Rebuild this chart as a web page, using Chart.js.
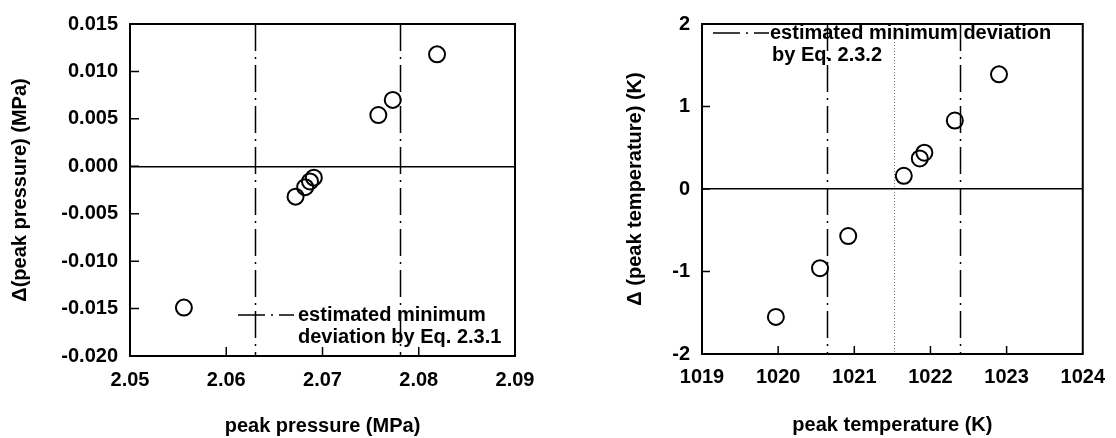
<!DOCTYPE html>
<html>
<head>
<meta charset="utf-8">
<script src="https://cdn.jsdelivr.net/npm/chart.js@4.4.1/dist/chart.umd.min.js"></script>
<style>
  body { margin: 0; background: #fff; width: 1116px; height: 438px; position: relative; overflow: hidden; }
  canvas { position: absolute; top: 0; }
  #pressChart { left: 0; }
  #tempChart { left: 560px; }
</style>
</head>
<body>
<canvas id="pressChart" width="560" height="438"></canvas>
<canvas id="tempChart" width="556" height="438"></canvas>
<script>
// left panel: peak pressure
const pressX = [2.0556, 2.0672, 2.0682, 2.0687, 2.0691, 2.0758, 2.0773, 2.0819];
const pressDev = [-0.0149, -0.0032, -0.0022, -0.0016, -0.0012, 0.0054, 0.0070, 0.0118];
const pressMinDevLines = [2.063, 2.078];
const pressLegend = ['estimated minimum', 'deviation by Eq. 2.3.1'];

// right panel: peak temperature
const tempX = [1019.97, 1020.55, 1020.92, 1021.65, 1021.86, 1021.92, 1022.32, 1022.90];
const tempDev = [-1.55, -0.96, -0.57, 0.16, 0.37, 0.44, 0.83, 1.39];
const tempMinDevLines = [1020.64, 1022.39];
const tempMidLine = [1021.52];
const tempLegend = ['estimated minimum deviation', 'by Eq. 2.3.2'];

const FONT = { family: '"Liberation Sans", Arial, sans-serif', size: 20, weight: 'bold' };
const DASHDOT = [27, 6, 2, 6];

const figurePlugin = {
    id: 'figure',
    beforeDatasetsDraw(chart, args, opts) {
        const { ctx, chartArea: a, scales: { x } } = chart;
        ctx.save();
        ctx.strokeStyle = '#000';
        ctx.lineWidth = 1.5;
        ctx.setLineDash(DASHDOT);
        opts.dashLines.forEach(v => {
            const px = Math.round(x.getPixelForValue(v)) + 0.5;
            ctx.beginPath();
            ctx.moveTo(px, a.top);
            ctx.lineTo(px, a.bottom);
            ctx.stroke();
        });
        ctx.strokeStyle = '#777';
        ctx.lineWidth = 1;
        ctx.setLineDash([1, 2]);
        (opts.dotLines || []).forEach(v => {
            const px = Math.round(x.getPixelForValue(v)) + 0.5;
            ctx.beginPath();
            ctx.moveTo(px, a.top);
            ctx.lineTo(px, a.bottom);
            ctx.stroke();
        });
        ctx.restore();
    },
    afterDatasetsDraw(chart, args, opts) {
        const { ctx, chartArea: a, scales: { x, y } } = chart;
        ctx.save();
        ctx.strokeStyle = '#000';
        // inner tick marks
        ctx.lineWidth = 1.5;
        ctx.beginPath();
        x.ticks.forEach(t => {
            if (Math.abs(t.value - x.min) < 1e-9 || Math.abs(t.value - x.max) < 1e-9) return;
            const px = x.getPixelForValue(t.value);
            ctx.moveTo(px, a.bottom);
            ctx.lineTo(px, a.bottom - opts.tickLen);
        });
        y.ticks.forEach(t => {
            if (Math.abs(t.value - y.min) < 1e-9 || Math.abs(t.value - y.max) < 1e-9) return;
            const py = y.getPixelForValue(t.value);
            ctx.moveTo(a.left, py);
            ctx.lineTo(a.left + opts.tickLen, py);
        });
        ctx.stroke();
        // frame
        ctx.lineWidth = 2;
        ctx.strokeRect(a.left, a.top, a.width, a.height);
        // legend
        const lg = opts.legend;
        ctx.lineWidth = 1.5;
        ctx.setLineDash(DASHDOT);
        ctx.beginPath();
        ctx.moveTo(lg.x0, lg.y);
        ctx.lineTo(lg.x1, lg.y);
        ctx.stroke();
        ctx.setLineDash([]);
        ctx.fillStyle = '#000';
        ctx.font = `${FONT.weight} ${FONT.size}px ${FONT.family}`;
        ctx.textBaseline = 'middle';
        ctx.textAlign = 'left';
        lg.text.forEach((s, i) => ctx.fillText(s, lg.tx + (i ? lg.indent : 0), lg.y + i * lg.lineGap));
        ctx.restore();
    }
};

function makeChart(id, xs, ys, cfg) {
    return new Chart(document.getElementById(id), {
        type: 'scatter',
        data: {
            datasets: [{
                data: xs.map((v, i) => ({ x: v, y: ys[i] })),
                pointStyle: 'circle',
                pointRadius: 8,
                pointHoverRadius: 8,
                borderColor: '#000',
                borderWidth: 2,
                backgroundColor: 'rgba(0,0,0,0)'
            }]
        },
        options: {
            responsive: false,
            animation: false,
            devicePixelRatio: 1,
            layout: { padding: cfg.padding },
            plugins: {
                legend: { display: false },
                tooltip: { enabled: false },
                figure: cfg.figure
            },
            scales: {
                x: {
                    type: 'linear',
                    min: cfg.xMin, max: cfg.xMax,
                    ticks: { stepSize: cfg.xStep, color: '#000', font: FONT, padding: cfg.xTickPad, callback: cfg.xFmt },
                    grid: { display: false, drawTicks: false },
                    border: { display: false },
                    title: { display: true, text: cfg.xTitle, color: '#000', font: FONT, padding: { top: 0, bottom: cfg.xTitlePad } },
                    afterFit: s => { s.height = cfg.xAxisH; }
                },
                y: {
                    type: 'linear',
                    min: cfg.yMin, max: cfg.yMax,
                    ticks: { stepSize: cfg.yStep, color: '#000', font: FONT, padding: 12, callback: cfg.yFmt },
                    grid: {
                        drawTicks: false,
                        lineWidth: 1.5,
                        color: c => (c.tick && Math.abs(c.tick.value) < 1e-9 ? '#000' : 'rgba(0,0,0,0)')
                    },
                    border: { display: false },
                    title: { display: true, text: cfg.yTitle, color: '#000', font: FONT, padding: { top: cfg.yTitlePad, bottom: 0 } },
                    afterFit: s => { s.width = cfg.yAxisW; }
                }
            }
        },
        plugins: [figurePlugin]
    });
}

makeChart('pressChart', pressX, pressDev, {
    padding: { top: 17, right: 45, left: 0, bottom: 0 },
    xMin: 2.05, xMax: 2.09, xStep: 0.01, xFmt: v => v.toFixed(2),
    yMin: -0.02, yMax: 0.015, yStep: 0.005, yFmt: v => (Math.abs(v) < 1e-9 ? 0 : v).toFixed(3),
    xTitle: 'peak pressure (MPa)', yTitle: 'Δ(peak pressure) (MPa)',
    xAxisH: 82, yAxisW: 130, xTickPad: 12, xTitlePad: 0, yTitlePad: 8,
    figure: {
        dashLines: pressMinDevLines,
        tickLen: 9,
        legend: { x0: 238, x1: 294, y: 315, tx: 298, indent: 0, lineGap: 22, text: pressLegend }
    }
});

makeChart('tempChart', tempX, tempDev, {
    padding: { top: 14, right: 29, left: 0, bottom: 0 },
    xMin: 1019, xMax: 1024, xStep: 1, xFmt: v => String(v),
    yMin: -2, yMax: 2, yStep: 1, yFmt: v => String(v),
    xTitle: 'peak temperature (K)', yTitle: 'Δ (peak temperature) (K)',
    xAxisH: 84, yAxisW: 142, xTickPad: 11, xTitlePad: 1, yTitlePad: 63,
    figure: {
        dashLines: tempMinDevLines,
        dotLines: tempMidLine,
        tickLen: 8,
        legend: { x0: 153, x1: 209, y: 33, tx: 210, indent: 2, lineGap: 22, text: tempLegend }
    }
});
</script>
</body>
</html>
